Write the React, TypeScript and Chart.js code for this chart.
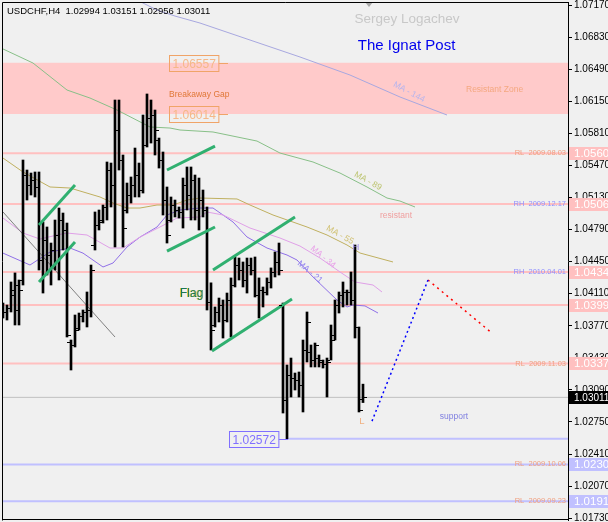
import React, { useEffect, useRef } from "react";
import { Chart, registerables } from "chart.js";

Chart.register(...registerables);

// ---------- data ----------
const headerText = "USDCHF,H4  1.02994 1.03151 1.02956 1.03011";

const opens = [
  1.03937, 1.03916, 1.03958, 1.04096, 1.03937, 1.04255, 1.05368, 1.05262, 1.05315, 1.05241,
  1.04467, 1.04679, 1.0452, 1.04573, 1.04732, 1.04891, 1.04785, 1.03598, 1.03566, 1.03746,
  1.03874, 1.03916, 1.03937, 1.04626, 1.04838, 1.04891, 1.05029, 1.05421, 1.05262, 1.05845,
  1.05527, 1.04997, 1.05156, 1.05262, 1.05368, 1.05209, 1.05686, 1.05972, 1.06004, 1.05739,
  1.05527, 1.05103, 1.04891, 1.0505, 1.04997, 1.04976, 1.05262, 1.05156, 1.05315, 1.04997,
  1.05103, 1.04997, 1.04022, 1.03778, 1.03916, 1.0399, 1.03831, 1.04043, 1.04202, 1.04414,
  1.04361, 1.04255, 1.04414, 1.04361, 1.04096, 1.04149, 1.04128, 1.04234, 1.0434, 1.04446,
  1.0399, 1.02983, 1.03248, 1.03216, 1.03195, 1.03142, 1.03513, 1.03492, 1.03407, 1.03428,
  1.03386, 1.03365, 1.03407, 1.03672, 1.0399, 1.04096, 1.04128, 1.04128, 1.04043, 1.03757,
  1.02994,
];
const highs = [
  1.04011, 1.0399, 1.04234, 1.0433, 1.04255, 1.05527, 1.05421, 1.05389, 1.054, 1.054,
  1.0487, 1.04817, 1.04647, 1.04891, 1.05018, 1.04965, 1.04859, 1.03619, 1.03884, 1.03905,
  1.03937, 1.04128, 1.04414, 1.04976, 1.04997, 1.0505, 1.05506, 1.05495, 1.06163, 1.06163,
  1.0558, 1.05283, 1.05347, 1.05654, 1.05495, 1.06004, 1.06227, 1.06163, 1.06057, 1.0576,
  1.05612, 1.05241, 1.05135, 1.05103, 1.05029, 1.05336, 1.05453, 1.05453, 1.05368, 1.05336,
  1.05209, 1.05029, 1.04225, 1.03969, 1.04064, 1.04043, 1.04117, 1.04277, 1.04499, 1.04488,
  1.04446, 1.04488, 1.04488, 1.04499, 1.04277, 1.04181, 1.04277, 1.04383, 1.04552, 1.04647,
  1.04011, 1.03354, 1.03428, 1.03269, 1.0328, 1.03619, 1.03916, 1.03566, 1.03587, 1.0346,
  1.03407, 1.03428, 1.03778, 1.04043, 1.04128, 1.04234, 1.04149, 1.0434, 1.04626, 1.03757,
  1.03151,
];
const lows = [
  1.03852, 1.03831, 1.03916, 1.03778, 1.03778, 1.04202, 1.05103, 1.05156, 1.05135, 1.04361,
  1.04117, 1.04308, 1.04202, 1.04361, 1.04255, 1.04573, 1.03651, 1.03301, 1.03545, 1.03725,
  1.0381, 1.03757, 1.03863, 1.04573, 1.04785, 1.04859, 1.04891, 1.05029, 1.04605, 1.05421,
  1.04605, 1.04965, 1.05071, 1.05135, 1.05135, 1.05177, 1.05665, 1.05707, 1.0558, 1.05442,
  1.04944, 1.04647, 1.0487, 1.04923, 1.04912, 1.04806, 1.04997, 1.04891, 1.04891, 1.04785,
  1.04923, 1.03937, 1.03513, 1.03757, 1.0381, 1.0364, 1.0381, 1.03651, 1.04181, 1.04255,
  1.04181, 1.04117, 1.04308, 1.04075, 1.03852, 1.03969, 1.04096, 1.0417, 1.04287, 1.04308,
  1.02845, 1.02572, 1.03015, 1.03089, 1.03015, 1.02856, 1.03386, 1.03333, 1.03333, 1.03333,
  1.03322, 1.03015, 1.03407, 1.03619, 1.03905, 1.03969, 1.0399, 1.0399, 1.0364, 1.02856,
  1.02956,
];
const closes = [
  1.03916, 1.03958, 1.04149, 1.04202, 1.04149, 1.05368, 1.05262, 1.05315, 1.05241, 1.04467,
  1.04679, 1.0452, 1.04573, 1.04732, 1.04891, 1.04785, 1.03672, 1.03566, 1.03725, 1.03874,
  1.03916, 1.03937, 1.04361, 1.04838, 1.0487, 1.05029, 1.05421, 1.05262, 1.05845, 1.05527,
  1.04806, 1.05156, 1.05262, 1.05368, 1.05209, 1.05686, 1.05972, 1.06004, 1.05845, 1.05527,
  1.05103, 1.04732, 1.0505, 1.04997, 1.04976, 1.05262, 1.05156, 1.05315, 1.04997, 1.05103,
  1.04997, 1.04022, 1.03725, 1.03916, 1.0399, 1.03831, 1.04043, 1.04202, 1.04414, 1.04361,
  1.04255, 1.04414, 1.04361, 1.04096, 1.04149, 1.04128, 1.04234, 1.0434, 1.04446, 1.04361,
  1.02983, 1.03248, 1.03216, 1.03195, 1.03142, 1.03513, 1.0381, 1.03407, 1.03566, 1.03407,
  1.03365, 1.03386, 1.03619, 1.0399, 1.04096, 1.04128, 1.04128, 1.04043, 1.03757, 1.02877,
  1.03011,
];

// moving averages (bar index, price) — shifted forward as on the chart
const ma144 = [[32, 1.0726], [35, 1.07191], [38.5, 1.07117], [43, 1.07053], [49.25, 1.06979], [61.75, 1.06799], [74.25, 1.06619], [86.75, 1.06428], [99.25, 1.06195], [111, 1.06004]];
const ma89 = [[0, 1.06704], [7.5, 1.06555], [16, 1.06269], [21.75, 1.06184], [28.5, 1.06057], [36.75, 1.05877], [41.75, 1.05866], [44.25, 1.05845], [52.5, 1.05824], [63.5, 1.05728], [69.25, 1.05601], [77.5, 1.05506], [84.25, 1.05389], [91, 1.05241], [96, 1.05124], [99.25, 1.05092], [103, 1.05029]];
const ma55 = [[0, 1.05548], [5, 1.054], [11.75, 1.05241], [16.75, 1.0523], [24.25, 1.05135], [27.5, 1.05071], [31, 1.05018], [34.25, 1.05018], [38.5, 1.0505], [42.5, 1.0505], [46, 1.05103], [49.25, 1.05124], [58.5, 1.05114], [61.75, 1.0505], [67.5, 1.04944], [76, 1.04817], [81, 1.04732], [86, 1.04626], [89.25, 1.04541], [97.5, 1.04446]];
const ma34 = [[0, 1.04912], [5, 1.04753], [9.25, 1.04689], [13.5, 1.04732], [16, 1.04753], [21, 1.04732], [26.75, 1.04594], [30, 1.04594], [34.25, 1.0471], [39.25, 1.04817], [43.5, 1.04912], [49.25, 1.04923], [51, 1.04976], [55, 1.04944], [61.75, 1.04806], [69.25, 1.047], [74.25, 1.04615], [79.25, 1.04488], [84.25, 1.0434], [88, 1.04234], [92.5, 1.04202], [94.75, 1.04128]];
const ma21 = [[0, 1.0454], [6.75, 1.04414], [11.75, 1.04552], [16.75, 1.04594], [20, 1.0454], [25, 1.04393], [27.5, 1.04435], [31, 1.04605], [34.25, 1.0471], [38.5, 1.04817], [41, 1.04944], [44.25, 1.04997], [49.25, 1.05018], [52.5, 1.05018], [57.5, 1.0487], [61, 1.04711], [66, 1.04594], [71, 1.0452], [73.5, 1.04467], [77.5, 1.04287], [83.5, 1.04043], [86, 1.03969], [87.5, 1.0399], [90.5, 1.0398], [93.75, 1.03905]];

const trendLine = [[0, 1.04976], [28, 1.03651]];
const channelLines = [
  [[9, 1.04838], [18, 1.05262]],
  [[9, 1.04234], [18, 1.04658]],
  [[41, 1.05421], [53, 1.05675]],
  [[41, 1.04562], [53, 1.04817]],
  [[52.5, 1.04361], [73, 1.04923]],
  [[52.25, 1.03502], [72.25, 1.04053]],
];
const projectionUp = [[92.25, 1.02759], [106.25, 1.04255]];
const projectionDown = [[106.25, 1.04255], [122.25, 1.03692]];

const resistanceLevels = [1.056, 1.0506, 1.0434, 1.0399, 1.0337];
const resistanceNotes = ["RL  2009.08.03", "RH  2009.12.17", "RH  2010.04.01", "", "RL  2009.11.03"];
const supportLevels = [1.023, 1.0191];
const supportNotes = ["RL  2009.10.06", "RL  2009.09.23"];
const swingLow = 1.02572;
const lastClose = 1.03011;
const gapTop = 1.06557;
const gapBottom = 1.06014;

const yTickValues = [1.0173, 1.0207, 1.0241, 1.0275, 1.0309, 1.0343, 1.0377, 1.0411, 1.0445, 1.0479, 1.0513, 1.0547, 1.0581, 1.0615, 1.0649, 1.0683, 1.0717];

// ---------- layout / style config ----------
const X_MIN = -0.25;
const X_MAX = 141.25;
const Y_MIN = 1.01711;
const Y_MAX = 1.07202;
const FONT = '"Liberation Sans", Arial, sans-serif';

const textNotes = [
  { text: "Sergey Logachev", i: 101, p: 1.07022, color: "#c8c8c8", size: 13.5, align: "center", rot: 0 },
  { text: "The Ignat Post", i: 100.9, p: 1.06735, color: "#0000ee", size: 15, align: "center", rot: 0 },
  { text: "Breakaway Gap", i: 41.5, p: 1.06216, color: "#e07838", size: 8.5, align: "left", rot: 0 },
  { text: "Resistant Zone", i: 115.75, p: 1.06269, color: "#f4a880", size: 8.5, align: "left", rot: 0 },
  { text: "MA - 144", i: 101.5, p: 1.06248, color: "#b4b4ee", size: 8.5, align: "center", rot: 28 },
  { text: "MA - 89", i: 91.25, p: 1.05304, color: "#bcc470", size: 8.5, align: "center", rot: 29 },
  { text: "resistant", i: 94.25, p: 1.04933, color: "#f0a0a0", size: 8.5, align: "left", rot: 0 },
  { text: "MA - 55", i: 84.25, p: 1.04732, color: "#d0c070", size: 8.5, align: "center", rot: 29 },
  { text: "H", i: 88.25, p: 1.04605, color: "#a898e8", size: 9.5, align: "center", rot: 0 },
  { text: "MA - 34", i: 80, p: 1.04499, color: "#e8a0e8", size: 8.5, align: "center", rot: 40 },
  { text: "MA - 21", i: 76.75, p: 1.0434, color: "#9080f0", size: 8.5, align: "center", rot: 40 },
  { text: "L", i: 89.75, p: 1.0276, color: "#f0b080", size: 9.5, align: "center", rot: 0 },
  { text: "support", i: 112.75, p: 1.02803, color: "#8080e0", size: 8.5, align: "center", rot: 0 },
];

const priceBoxes = [
  { value: gapTop, from: 41.5, to: 56.25, border: "#f0a468", text: "#f5b888" },
  { value: gapBottom, from: 41.5, to: 56.25, border: "#f0a468", text: "#f5b888" },
  { value: swingLow, from: 56.5, to: 71.25, border: "#8070ff", text: "#8070ff" },
];

const overlay = {
  id: "overlay",
  beforeDraw(chart: any) {
    const { ctx, width, height } = chart;
    ctx.save();
    ctx.fillStyle = "#f0f0f0";
    ctx.fillRect(0, 0, width, height);
    ctx.restore();
  },
  afterDatasetsDraw(chart: any) {
    const { ctx, chartArea } = chart;
    const xs = chart.scales.x;
    const ys = chart.scales.y;
    ctx.save();
    ctx.beginPath();
    ctx.rect(chartArea.left, chartArea.top, chartArea.right - chartArea.left, chartArea.bottom - chartArea.top);
    ctx.clip();

    // open / close ticks
    ctx.fillStyle = "#000";
    for (let i = 0; i < opens.length; i++) {
      const x = Math.round(xs.getPixelForValue(i));
      const yo = Math.round(ys.getPixelForValue(opens[i]));
      const yc = Math.round(ys.getPixelForValue(closes[i]));
      ctx.fillRect(x - 4, yo, 3, 1);
      ctx.fillRect(x + 1, yc, 3, 1);
    }

    // level notes at right edge
    ctx.textAlign = "right";
    ctx.textBaseline = "middle";
    ctx.font = `7.5px ${FONT}`;
    resistanceLevels.forEach((v, k) => {
      const n = resistanceNotes[k];
      if (!n) return;
      ctx.fillStyle = n.startsWith("RH") ? "#9090ff" : "#f0a080";
      ctx.fillText(n, chartArea.right - 2, ys.getPixelForValue(v));
    });
    supportLevels.forEach((v, k) => {
      ctx.fillStyle = "#f0a080";
      ctx.fillText(supportNotes[k], chartArea.right - 2, ys.getPixelForValue(v));
    });

    // text notes
    textNotes.forEach((n) => {
      const x = xs.getPixelForValue(n.i);
      const y = ys.getPixelForValue(n.p);
      ctx.save();
      ctx.translate(x, y);
      ctx.rotate((n.rot * Math.PI) / 180);
      ctx.font = `${n.size}px ${FONT}`;
      ctx.textAlign = n.align;
      ctx.textBaseline = "middle";
      ctx.fillStyle = n.color;
      ctx.fillText(n.text, 0, 0);
      ctx.restore();
    });

    // Flag label
    {
      const x = xs.getPixelForValue(44.25);
      const y = ys.getPixelForValue(1.04107);
      ctx.font = `12px ${FONT}`;
      ctx.textAlign = "left";
      ctx.textBaseline = "middle";
      ctx.fillStyle = "#d8c040";
      ctx.fillText("Flag", x - 1, y);
      ctx.fillStyle = "#187858";
      ctx.fillText("Flag", x, y);
    }

    // triangle marker
    {
      const x = xs.getPixelForValue(91.5);
      const y = ys.getPixelForValue(1.0718);
      ctx.fillStyle = "#a8a8a8";
      ctx.beginPath();
      ctx.moveTo(x - 4, y - 2);
      ctx.lineTo(x + 4, y - 2);
      ctx.lineTo(x, y + 3);
      ctx.closePath();
      ctx.fill();
    }

    // price boxes
    priceBoxes.forEach((b) => {
      ctx.font = `12px ${FONT}`;
      const label = b.value.toFixed(5);
      const w = ctx.measureText(label).width + 6;
      const x0 = Math.round(xs.getPixelForValue(b.from)) + 0.5;
      const y = Math.round(ys.getPixelForValue(b.value)) + 0.5;
      ctx.strokeStyle = b.border;
      ctx.lineWidth = 1;
      ctx.strokeRect(x0, y - 8, w, 16);
      ctx.beginPath();
      ctx.moveTo(x0 + w, y);
      ctx.lineTo(xs.getPixelForValue(b.to), y);
      ctx.stroke();
      ctx.fillStyle = b.text;
      ctx.textAlign = "left";
      ctx.textBaseline = "middle";
      ctx.fillText(label, x0 + 3, y + 1);
    });
    ctx.restore();
  },
  afterDraw(chart: any) {
    const { ctx, chartArea, width } = chart;
    const ys = chart.scales.y;
    ctx.save();
    // frame
    ctx.strokeStyle = "#000";
    ctx.lineWidth = 1;
    ctx.beginPath();
    ctx.moveTo(chartArea.left + 0.5, chartArea.bottom + 0.5);
    ctx.lineTo(chartArea.left + 0.5, chartArea.top + 0.5);
    ctx.lineTo(chartArea.right, chartArea.top + 0.5);
    ctx.moveTo(chartArea.left, chartArea.bottom - 0.5);
    ctx.lineTo(chartArea.right, chartArea.bottom - 0.5);
    ctx.stroke();

    // axis price tags
    const tag = (v: number, txt: string, bg: string, fg: string, size: number) => {
      const y = Math.round(ys.getPixelForValue(v));
      ctx.fillStyle = bg;
      ctx.fillRect(chartArea.right + 1, y - 6, width - chartArea.right - 1, 13);
      ctx.fillStyle = fg;
      ctx.font = `${size}px ${FONT}`;
      ctx.textAlign = "left";
      ctx.textBaseline = "middle";
      ctx.fillText(txt, chartArea.right + 6, y + 1);
    };
    resistanceLevels.forEach((v) => tag(v, v.toFixed(4), "#ffc0c0", "#ffffff", 11.5));
    supportLevels.forEach((v) => tag(v, v.toFixed(4), "#c0c0ff", "#ffffff", 11.5));
    tag(lastClose, lastClose.toFixed(5), "#000000", "#ffffff", 10);

    // header
    ctx.fillStyle = "#000";
    ctx.font = `9.5px ${FONT}`;
    ctx.textAlign = "left";
    ctx.textBaseline = "middle";
    ctx.fillText(headerText, chartArea.left + 5, chartArea.top + 9);
    ctx.restore();
  },
};

const pts = (arr: number[][]) => arr.map(([x, y]) => ({ x, y }));
const span = (v: number, from = X_MIN) => [{ x: from, y: v }, { x: X_MAX, y: v }];

export default function App() {
  const ref = useRef<HTMLCanvasElement>(null);
  useEffect(() => {
    const canvas = ref.current!;
    const line = (data: any[], color: string, width: number, order: number, extra: any = {}) => ({
      type: "line",
      data,
      borderColor: color,
      borderWidth: width,
      pointRadius: 0,
      fill: false,
      tension: 0,
      order,
      ...extra,
    });
    const datasets: any[] = [
      line(span(gapTop), "rgba(0,0,0,0)", 0, 100, { fill: { value: gapBottom }, backgroundColor: "#ffcaca" }),
      ...resistanceLevels.map((v) => line(span(v), "#ffc0c0", 2, 90)),
      ...supportLevels.map((v) => line(span(v), "#c0c0ff", 2, 90)),
      line(span(swingLow, 71.25), "#c0c0ff", 2, 90),
      line(span(lastClose), "#c0c0c0", 1, 90),
      line(pts(ma144), "#a8a8e0", 1, 50),
      line(pts(ma89), "#88c088", 1, 50),
      line(pts(ma55), "#c0b060", 1, 50),
      line(pts(ma34), "#e0a0e8", 1, 50),
      line(pts(ma21), "#9070e8", 1, 50),
      line(pts(trendLine), "#808080", 1, 45),
      {
        type: "bar",
        data: highs.map((h, i) => ({ x: i, y: [lows[i], h] })),
        backgroundColor: "#000000",
        borderWidth: 0,
        barThickness: 2,
        order: 10,
      },
      ...channelLines.map((c) => line(pts(c), "#30b070", 3, 5)),
      line(pts(projectionUp), "#0000ff", 1.5, 4, { borderDash: [2, 3] }),
      line(pts(projectionDown), "#ff0000", 1.5, 4, { borderDash: [2, 4] }),
    ];
    const chart = new Chart(canvas, {
      type: "bar",
      data: { datasets },
      options: {
        responsive: false,
        animation: false,
        devicePixelRatio: 1,
        layout: { padding: { left: 2, top: 2, right: 0, bottom: 2 } },
        plugins: { legend: { display: false }, tooltip: { enabled: false } },
        scales: {
          x: { type: "linear", min: X_MIN, max: X_MAX, offset: false, display: false },
          y: {
            type: "linear",
            position: "right",
            min: Y_MIN,
            max: Y_MAX,
            afterBuildTicks: (s: any) => {
              s.ticks = yTickValues.map((v) => ({ value: v }));
            },
            afterFit: (s: any) => {
              s.width = 40;
              s.paddingTop = 0;
              s.paddingBottom = 0;
            },
            ticks: {
              autoSkip: false,
              maxRotation: 0,
              padding: 2,
              color: "#000",
              font: { family: FONT, size: 10 },
              callback: (v: any) => Number(v).toFixed(5),
            },
            grid: { drawOnChartArea: false, drawTicks: true, tickLength: 4, color: "#000" },
            border: { display: true, color: "#000", width: 1 },
          },
        },
      } as any,
      plugins: [overlay as any],
    });
    return () => chart.destroy();
  }, []);
  return (
    <div style={{ position: "absolute", left: 0, top: 0, width: 608, height: 522 }}>
      <canvas ref={ref} width={608} height={522} style={{ display: "block" }} />
    </div>
  );
}
